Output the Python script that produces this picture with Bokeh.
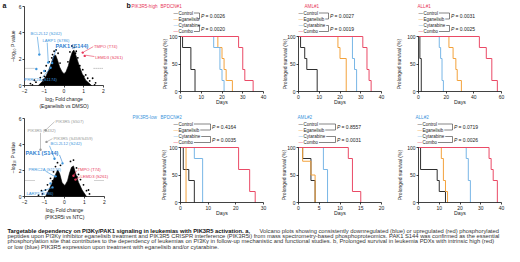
import math
from bokeh.plotting import figure
from bokeh.models import Range1d, Label, FixedTicker
from bokeh.layouts import column, row
from bokeh.embed import file_html
from bokeh.resources import INLINE

FONT = "Liberation Sans"

# ---------------- panel b data (Kaplan-Meier steps) ----------------
treatments = ["Control", "Eganelisib", "Cytarabine", "Combo"]
treatment_colors = ["#2f2f2f", "#f3a23c", "#78b6e6", "#ea4a66"]

bpdcn1_days = [[1, 5, 7], [18, 20, 21, 22, 25], [16, 19, 20, 21], [28, 30, 31, 35]]
bpdcn1_surv = [[80, 40, 0], [80, 60, 40, 20, 0], [80, 40, 20, 0], [80, 40, 20, 0]]
bpdcn1_p = ["0.0026", "0.0020"]
bpdcn1_xticks = [0, 10, 20, 30, 40]

aml1_days = [[1, 3, 4, 9], [19, 20, 23], [26, 27, 28], [31, 33, 34, 35]]
aml1_surv = [[80, 60, 40, 0], [80, 60, 0], [60, 40, 0], [80, 40, 20, 0]]
aml1_p = ["0.0027", "0.0019"]
aml1_xticks = [0, 10, 20, 30, 40]

all1_days = [[1, 2], [22, 25, 27, 28, 31], [15, 16, 17, 18], [44, 49, 53, 57]]
all1_surv = [[60, 0], [80, 60, 40, 20, 0], [80, 60, 20, 0], [80, 60, 20, 0]]
all1_p = ["0.0031", "0.0025"]
all1_xticks = [0, 20, 40, 60]

bpdcn2_days = [[1, 3, 5], [2], [5, 8], [21, 25, 27]]
bpdcn2_surv = [[60, 40, 0], [0], [80, 0], [60, 20, 0]]
bpdcn2_p = ["0.4164", "0.0035"]
bpdcn2_xticks = [0, 10, 20, 30]

aml2_days = [[1, 3, 4], [1, 3, 4], [6, 7], [12, 13, 15]]
aml2_surv = [[80, 40, 0], [75, 50, 0], [60, 0], [80, 20, 0]]
aml2_p = ["0.8557", "0.0031"]
aml2_xticks = [0, 5, 10, 15, 20]

all2_days = [[1, 9, 10, 13], [11, 12, 13, 14], [23, 24, 25], [34, 35, 36, 38]]
all2_surv = [[60, 40, 20, 0], [80, 40, 20, 0], [80, 40, 0], [80, 60, 40, 0]]
all2_p = ["0.0719", "0.0026"]
all2_xticks = [0, 10, 20, 30, 40]

surv_yticks = [0, 50, 100]
high_titles = ["BPDCN#1", "AML#1", "ALL#1"]
low_titles = ["BPDCN#2", "AML#2", "ALL#2"]

# ---------------- panel a data (volcano plots) ----------------
volc_xticks = [-2, -1, 0, 1, 2]
volc_yticks = [0, 2, 4, 6]

volc1_cloud_x = [-1.3, -1.1, -0.9, -0.75, -0.62, -0.52, -0.42, -0.32, -0.22, -0.1, 0.0, 0.1, 0.22, 0.32, 0.42, 0.5, 0.6, 0.75, 0.92, 1.1, 1.4]
volc1_cloud_y = [0.0, 0.3, 0.75, 1.25, 1.8, 2.25, 2.3, 1.9, 1.4, 1.05, 0.9, 1.05, 1.5, 2.1, 2.55, 2.7, 2.3, 1.6, 0.9, 0.4, 0.0]
volc1_pts_x = [-1.7, -1.5, -1.42, -1.2, -1.15, -1.05, -0.95, -0.9, -0.75, -0.62, -0.5, -0.3, 0.3, 0.52, 0.62, 0.7, 0.8, 0.95, 1.1, 1.2, 1.3, 1.45, 1.6, -0.4, 0.4, -0.58, 0.58, 1.0, -1.0, -1.6, 1.55, -0.2, 0.2]
volc1_pts_y = [0.15, 0.4, 0.25, 0.6, 0.95, 0.45, 1.1, 1.5, 1.8, 2.1, 2.6, 2.45, 2.55, 2.9, 2.6, 2.1, 1.5, 1.2, 0.8, 0.55, 0.35, 0.55, 0.2, 2.7, 3.0, 2.35, 2.45, 0.7, 0.7, 0.05, 0.05, 1.7, 1.8]
volc1_down_x = [-1.25, -0.8, -0.6, -0.68, -1.4, -1.0]
volc1_down_y = [2.35, 1.75, 1.7, 1.35, 1.25, 1.1]
volc1_up_x = [0.95, 1.05]
volc1_up_y = [2.5, 2.25]

volc2_cloud_x = [-0.95, -0.75, -0.58, -0.45, -0.34, -0.24, -0.12, 0.02, 0.15, 0.25, 0.35, 0.45, 0.55, 0.7, 0.88, 1.1]
volc2_cloud_y = [0.0, 0.6, 1.2, 1.7, 2.05, 1.75, 1.05, 0.85, 1.2, 1.8, 2.25, 2.35, 1.8, 1.1, 0.5, 0.0]
volc2_pts_x = [-1.1, -0.95, -0.85, -0.7, -0.55, -0.45, -0.35, 0.45, 0.6, 0.7, 0.8, 0.95, 1.1, 1.25, -1.3, 0.3, -0.2, -0.6, 0.62, -1.15, 1.2]
volc2_pts_y = [0.2, 0.5, 0.9, 1.4, 1.9, 2.3, 2.6, 2.8, 2.2, 1.7, 1.3, 0.9, 0.45, 0.2, 0.1, 2.7, 2.4, 1.2, 1.5, 0.45, 0.5]
volc2_down_x = [-0.1, -0.5, -0.45, -0.6, -0.7]
volc2_down_y = [2.55, 2.9, 1.55, 0.7, 1.0]
volc2_up_x = [0.45, 0.55]
volc2_up_y = [1.6, 1.3]
volc2_gray_x = [-0.95, -1.2, -0.9]
volc2_gray_y = [5.1, 3.6, 4.2]

# annotated sites: text, colour key, label anchor (x, y), leader start (x, y), leader end (x, y)
volc1_sites = [
    ("BCL2L12 (S242)", "down", -1.70, 3.95, -1.35, 3.7, -1.25, 2.45),
    ("LARP1 (S786)", "down", -1.09, 3.45, -0.85, 3.25, -0.8, 1.85),
    ("PAK1 (S144)", "pak", -0.43, 3.0, -0.4, 2.75, -0.6, 1.8),
    ("TMPO (T74)", "up", 1.52, 2.96, 1.48, 2.95, 1.0, 2.55),
    ("LEMD3 (S261)", "up", 1.58, 2.13, 1.54, 2.2, 1.1, 2.3),
    ("PRRC2A (S1174)", "down", -2.0, 0.46, -1.1, 0.6, -0.7, 1.3),
]
volc2_sites = [
    ("PIK3R5 (S507)", "gray", -0.45, 5.77, -0.5, 5.75, -0.95, 5.1),
    ("PIK3R5 (S432)", "gray", -1.85, 5.08, -1.2, 4.9, -1.2, 3.6),
    ("PIK3R5 (S458/S459)", "gray", -0.55, 4.46, -0.6, 4.45, -0.9, 4.2),
    ("BCL2L12 (S242)", "down", -0.7, 4.04, -0.75, 3.9, -0.5, 2.95),
    ("PAK1 (S144)", "pak", -1.95, 3.38, -0.25, 3.2, -0.1, 2.6),
    ("PRRC2A (S1174)", "down", -1.8, 2.08, -0.95, 1.95, -0.5, 1.55),
    ("TMPO (T74)", "up", 0.65, 2.08, 0.62, 2.0, 0.45, 1.6),
    ("LEMD3 (S261)", "up", 0.8, 1.54, 0.77, 1.5, 0.55, 1.3),
    ("LARP1 (S786)", "down", -1.9, 0.23, -1.2, 0.35, -0.6, 0.7),
]
volc1_threshold = 1.3
volc2_threshold = 1.23

caption_bold = "Targetable dependency on PI3K\u03b3/PAK1 signaling in leukemias with PIK3R5 activation. a,"
caption_line1 = "Volcano plots showing consistently downregulated (blue) or upregulated (red) phosphorylated"
caption_lines = [
    "peptides upon PI3K\u03b3 inhibitor eganelisib treatment and PIK3R5 CRISPR interference (PIK3R5i) from mass spectrometry-based phosphoproteomics. PAK1 S144 was confirmed as the essential",
    "phosphorylation site that contributes to the dependency of leukemias on PI3K\u03b3 in follow-up mechanistic and functional studies. b, Prolonged survival in leukemia PDXs with intrinsic high (red)",
    "or low (blue) PIK3R5 expression upon treatment with eganelisib and/or cytarabine.",
]

RED = "#e8395b"
BLUE = "#3d95dc"
GRAY = "#9a9a9a"
SITE_COLORS = {"down": BLUE, "up": RED, "pak": "#2f7fd0", "gray": GRAY}

CHAR_W = {"C": .722, "o": .556, "n": .556, "t": .278, "r": .333, "l": .222, "E": .667,
          "g": .556, "a": .556, "e": .556, "i": .222, "s": .5, "b": .556, "y": .5, "m": .833}


def text_w(s, px):
    return sum(CHAR_W.get(c, .556) for c in s) * px


def lab(p, x, y, text, size="5px", color="#222222", align="left", style="normal", angle=0.0):
    p.add_layout(Label(x=x, y=y, text=text, text_font=FONT, text_font_size=size,
                       text_color=color, text_align=align, text_baseline="middle",
                       text_font_style=style, angle=angle))


def make_fig(fig_left, fig_top, W, H, X, Y):
    # the frame fills the whole figure; axes are pinned at data locations
    p = figure(width=W, height=H,
               x_range=Range1d(X(fig_left), X(fig_left + W)),
               y_range=Range1d(Y(fig_top + H), Y(fig_top)),
               output_backend="svg", toolbar_location=None, min_border=0)
    p.xgrid.visible = False
    p.ygrid.visible = False
    p.outline_line_color = None
    return p


def style_axes(p, xticks, yticks):
    p.xaxis[0].fixed_location = yticks[0]
    p.yaxis[0].fixed_location = xticks[0]
    for ax, ticks in ((p.xaxis[0], xticks), (p.yaxis[0], yticks)):
        ax.ticker = FixedTicker(ticks=ticks)
        ax.bounds = (ticks[0], ticks[-1])
        ax.axis_line_width = 0.8
        ax.axis_line_color = "#111111"
        ax.major_tick_line_width = 0.8
        ax.major_tick_line_color = "#111111"
        ax.major_tick_out = 2
        ax.major_tick_in = 0
        ax.minor_tick_out = 0
        ax.minor_tick_in = 0
        ax.major_label_text_font = FONT
        ax.major_label_text_font_size = "5px"
        ax.major_label_text_color = "#222222"
        ax.major_label_standoff = 1


# ---------------- survival panels ----------------
COLS = [(125, 150, 180, 263), (275, 117, 298, 381), (392, 128, 418, 501)]
ROWS = [(0, 110, 91, 36), (110, 112, 202, 147)]
LEG_OFF = [-23.5, -17.5, -11.0, -5.0]
LEG_PX = 4.5


def survival(ci, ri, days, surv, pvals, xticks, title, tcolor, title_x, dash_x, brk_x, ytitle_x):
    fig_left, fig_w, fl, fr = COLS[ci]
    top, H, fb, y100 = ROWS[ri]
    x_end = xticks[-1]

    def X(px):
        return x_end * (px - fl) / (fr - fl)

    def Y(py):
        return 100.0 * (fb - py) / (fb - y100)

    p = make_fig(fig_left, top, fig_w, H, X, Y)
    style_axes(p, xticks, surv_yticks)
    for i in range(4):
        p.step([0] + days[i], [100] + surv[i], mode="after",
               line_color=treatment_colors[i], line_width=1.0)

    ly = [y100 + o for o in LEG_OFF]
    for i, name in enumerate(treatments):
        lab(p, X(dash_x), Y(ly[i]), "\u2014", size="4.5px", color=treatment_colors[i])
        lab(p, X(dash_x + 5), Y(ly[i]), name, size="%.1fpx" % LEG_PX)
    for k, (a, b) in enumerate(((0, 1), (2, 3))):
        ea = min(dash_x + 5 + text_w(treatments[a], LEG_PX) + 1, brk_x - 1.5)
        eb = min(dash_x + 5 + text_w(treatments[b], LEG_PX) + 1, brk_x - 1.5)
        p.line([X(ea), X(brk_x), X(brk_x), X(eb)], [Y(ly[a]), Y(ly[a]), Y(ly[b]), Y(ly[b])],
               line_color="#333333", line_width=0.6)
        ym = (ly[a] + ly[b]) / 2.0
        lab(p, X(brk_x + 1.5), Y(ym), "P", size="5px", style="italic")
        lab(p, X(brk_x + 6), Y(ym), "= " + pvals[k], size="5px")

    lab(p, X(title_x), Y(y100 - 30.5), title, size="4.6px", color=tcolor)
    lab(p, X(ytitle_x), Y((fb + y100) / 2.0), "Prolonged survival (%)", size="5px",
        align="center", angle=math.pi / 2)
    lab(p, X((fl + fr) / 2.0), Y(fb + 10.5), "Days", size="5.2px", align="center")
    if ci == 0 and ri == 0:
        lab(p, X(126), Y(4.5), "b", size="7px", style="bold", color="#111111")
        lab(p, X(131), Y(y100 - 30.5), "PIK3R5-high", size="4.6px", color=RED)
    if ci == 0 and ri == 1:
        lab(p, X(132), Y(y100 - 30.5), "PIK3R5-low", size="4.6px", color=BLUE)
    return p


s11 = survival(0, 0, bpdcn1_days, bpdcn1_surv, bpdcn1_p, bpdcn1_xticks, high_titles[0], RED, 160, 173, 199, 164)
s12 = survival(1, 0, aml1_days, aml1_surv, aml1_p, aml1_xticks, high_titles[1], RED, 304, 298, 328, 284)
s13 = survival(2, 0, all1_days, all1_surv, all1_p, all1_xticks, high_titles[2], RED, 417, 418, 449, 398)
s21 = survival(0, 1, bpdcn2_days, bpdcn2_surv, bpdcn2_p, bpdcn2_xticks, low_titles[0], BLUE, 160, 173, 210, 163)
s22 = survival(1, 1, aml2_days, aml2_surv, aml2_p, aml2_xticks, low_titles[1], BLUE, 297, 298, 335, 283)
s23 = survival(2, 1, all2_days, all2_surv, all2_p, all2_xticks, low_titles[2], BLUE, 415, 417, 452, 399)


# ---------------- volcano panels ----------------
def volcano(top, H, ft, fb, fl, fr, cloud_x, cloud_y, pts_x, pts_y, down_x, down_y, up_x, up_y,
            gray_x, gray_y, sites, thr, xlab2, show_a):
    def X(px):
        return -2 + 4.0 * (px - fl) / (fr - fl)

    def Y(py):
        return 6.0 * (fb - py) / (fb - ft)

    p = make_fig(0, top, 125, H, X, Y)
    style_axes(p, volc_xticks, volc_yticks)
    p.line([-1.95, -1.5], [thr, thr], line_color="#8c8c8c", line_dash="1 1", line_width=0.8)
    p.line([1.5, 2.0], [thr, thr], line_color="#8c8c8c", line_dash="1 1", line_width=0.8)
    p.patch(cloud_x, cloud_y, fill_color="#000000", line_color="#000000", line_width=0.6)
    p.scatter(pts_x, pts_y, size=1.8, fill_color="#000000", line_color=None)
    for s in sites:
        p.line([s[4], s[6]], [s[5], s[7]], line_color=SITE_COLORS[s[1]], line_width=0.6)
    if gray_x:
        p.scatter(gray_x, gray_y, size=2.4, fill_color=GRAY, line_color=None)
    p.scatter(down_x, down_y, size=2.4, fill_color=BLUE, line_color=None)
    p.scatter(up_x, up_y, size=2.4, fill_color=RED, line_color=None)
    for s in sites:
        if s[1] == "pak":
            lab(p, s[2], s[3], s[0], size="5.6px", color=SITE_COLORS["pak"], style="bold")
        else:
            lab(p, s[2], s[3], s[0], size="4.2px", color=SITE_COLORS[s[1]])
    lab(p, X(12), Y((ft + fb) / 2.0), "\u2013log\u2081\u2080 P value", size="5px",
        align="center", angle=math.pi / 2)
    lab(p, X((fl + fr) / 2.0), Y(fb + 13), "log\u2082 Fold change", size="5px", align="center")
    lab(p, X((fl + fr) / 2.0), Y(fb + 20), xlab2, size="5px", align="center")
    if show_a:
        lab(p, X(2), Y(top + 5), "a", size="7px", style="bold", color="#111111")
    return p


va1 = volcano(0, 110, 6, 85, 24, 103, volc1_cloud_x, volc1_cloud_y, volc1_pts_x, volc1_pts_y,
              volc1_down_x, volc1_down_y, volc1_up_x, volc1_up_y, [], [], volc1_sites,
              volc1_threshold, "(Eganelisib vs DMSO)", True)
va2 = volcano(110, 112, 118, 196, 24, 104, volc2_cloud_x, volc2_cloud_y, volc2_pts_x, volc2_pts_y,
              volc2_down_x, volc2_down_y, volc2_up_x, volc2_up_y, volc2_gray_x, volc2_gray_y,
              volc2_sites, volc2_threshold, "(PIK3R5i vs NTC)", False)

# ---------------- caption ----------------
cap = figure(width=520, height=40, x_range=Range1d(0, 520), y_range=Range1d(40, 0),
             output_backend="svg", toolbar_location=None, min_border=0,
             x_axis_location=None, y_axis_location=None)
cap.xgrid.visible = False
cap.ygrid.visible = False
cap.outline_line_color = None
CAP_SIZE = "5.8px"
lab(cap, 7, 8, caption_bold, size=CAP_SIZE, style="bold", color="#111111")
lab(cap, 259, 8, caption_line1, size=CAP_SIZE, color="#333333")
for i, line in enumerate(caption_lines):
    lab(cap, 7, 13.4 + 5.35 * i, line, size=CAP_SIZE, color="#333333")

layout = column(row(va1, s11, s12, s13), row(va2, s21, s22, s23), cap)

open("out.html", "w").write(file_html(layout, INLINE))
